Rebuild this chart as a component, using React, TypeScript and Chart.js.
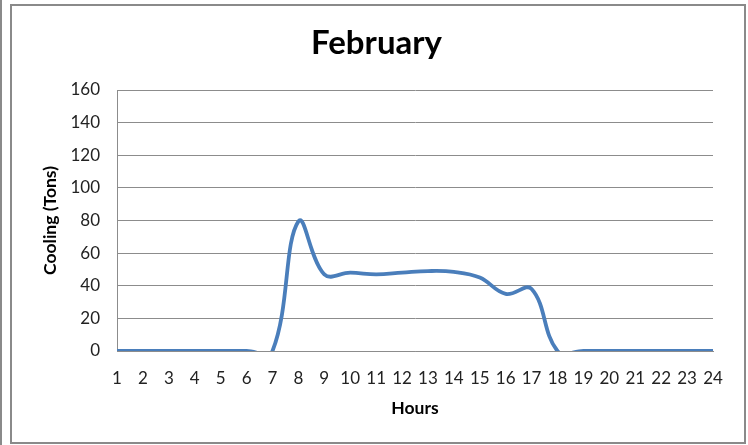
import React, { useEffect, useRef } from "react";
import { Chart, registerables } from "chart.js";

Chart.register(...registerables);

const hours: string[] = [
  "1", "2", "3", "4", "5", "6", "7", "8", "9", "10", "11", "12",
  "13", "14", "15", "16", "17", "18", "19", "20", "21", "22", "23", "24",
];
const cooling: number[] = [
  0, 0, 0, 0, 0, 0, 0, 79.5, 47, 48, 47, 48,
  49, 48.5, 45, 35, 38, 0, 0, 0, 0, 0, 0, 0,
];
const yTicks: number[] = [0, 20, 40, 60, 80, 100, 120, 140, 160];

const FONT = "Lato, 'Open Sans', sans-serif";
const GRID = "#8c8c8c";

export default function App() {
  const ref = useRef<HTMLCanvasElement | null>(null);

  useEffect(() => {
    if (!ref.current) return;
    const chart = new Chart(ref.current, {
      type: "line",
      data: {
        labels: hours,
        datasets: [
          {
            data: cooling,
            borderColor: "#4a7ebb",
            borderWidth: 3.8,
            pointRadius: 0,
            tension: 0.4,
            capBezierPoints: false,
            fill: false,
          } as any,
        ],
      },
      options: {
        responsive: false,
        animation: false,
        devicePixelRatio: 1,
        layout: { padding: { left: 40, right: 35, top: 0, bottom: 0 } },
        plugins: {
          legend: { display: false },
          tooltip: { enabled: false },
          title: {
            display: true,
            text: "February",
            color: "#000",
            font: { family: FONT, size: 33, weight: "bold", lineHeight: 1.2 },
            padding: { top: 24, bottom: 26.4 },
          },
        },
        scales: {
          x: {
            type: "category",
            offset: false,
            grid: { display: false, drawTicks: false },
            border: { display: true, color: GRID, width: 1 },
            ticks: {
              color: "#222",
              font: { family: FONT, size: 17 },
              padding: 17,
              maxRotation: 0,
              autoSkip: false,
            },
            title: {
              display: true,
              text: "Hours",
              color: "#000",
              font: { family: FONT, size: 17.5, weight: "bold", lineHeight: 1.2 },
              padding: { top: 0, bottom: 26 },
            },
            afterFit: (s: any) => {
              s.height = 94;
            },
          },
          y: {
            min: 0,
            max: 160,
            afterBuildTicks: (s: any) => {
              s.ticks = yTicks.map((v) => ({ value: v }));
            },
            grid: { color: GRID, lineWidth: 1, drawTicks: false },
            border: { display: true, color: GRID, width: 1 },
            ticks: {
              color: "#222",
              font: { family: FONT, size: 17 },
              padding: 17,
            },
            title: {
              display: true,
              text: "Cooling (Tons)",
              color: "#000",
              font: { family: FONT, size: 17.5, weight: "bold", lineHeight: 1.2 },
              padding: { top: 0, bottom: 0 },
            },
            afterFit: (s: any) => {
              s.width = 77;
            },
          },
        },
      },
    });
    return () => chart.destroy();
  }, []);

  return (
    <div style={{ position: "fixed", left: 0, top: 0, width: 748, height: 445, background: "#fff" }}>
      <div style={{ position: "absolute", left: 0, top: 0, width: 2, height: 445, background: "#8a8a8a" }} />
      <div
        style={{
          position: "absolute",
          left: 10,
          top: 4,
          width: 732,
          height: 436,
          border: "2px solid #8a8a8a",
        }}
      />
      <canvas ref={ref} width={748} height={445} style={{ position: "absolute", left: 0, top: 0 }} />
    </div>
  );
}
